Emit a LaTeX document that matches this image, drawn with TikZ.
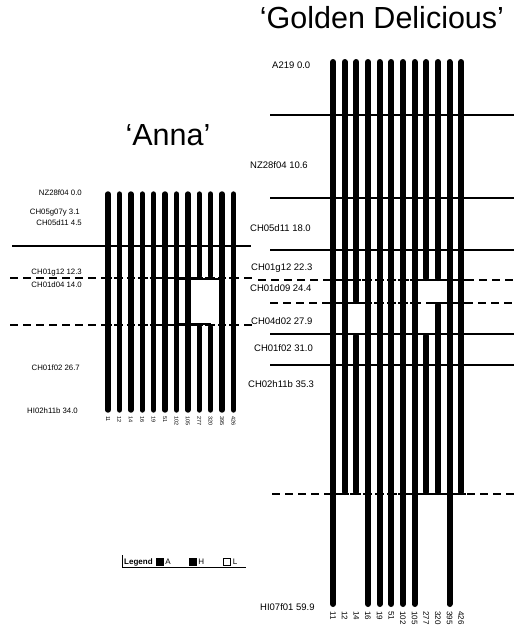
\documentclass[tikz,border=0pt]{standalone}
\usepackage{fontspec}
\setmainfont{Liberation Sans}
\usetikzlibrary{positioning}

\begin{document}
\begin{tikzpicture}[x=1pt,y=-1pt,
  bar/.style={line width=6pt,line cap=round},
  smallbar/.style={line width=5.4pt,line cap=round},
  bartick/.style={line width=2pt},
  mline/.style={line width=1.7pt},
  dline/.style={line width=1.7pt,dash pattern=on 8pt off 5pt},
  ttl/.style={font=\fontsize{30.5}{33}\selectfont,inner sep=0pt},
  gdlab/.style={font=\fontsize{9.5}{10}\selectfont,anchor=west,inner sep=0pt},
  annalab/.style={font=\fontsize{7.8}{8}\selectfont,anchor=east,inner sep=0pt},
  numlab/.style={rotate=-90,anchor=west,inner sep=0pt},
  legtext/.style={font=\fontsize{8}{8}\selectfont,inner sep=0pt},
  legbox/.style={draw,line width=0.8pt,minimum size=7pt,inner sep=0pt}]
  % --- cadre ---
  \fill[white] (0,0) rectangle (514,632);
  \useasboundingbox (0,0) rectangle (514,632);

  % --- titres ---
  \node[ttl] (gdtitle) at (382,18) {`Golden Delicious'};
  \node[ttl] (annatitle) at (168,135) {`Anna'};

  % --- Anna : lignes des marqueurs ---
  \draw[mline] (12,246) -- (251,246);
  \draw[dline] (10,278) -- (256,278);
  \draw[dline] (10,325) -- (256,325);

  % --- Anna : barres (haplotypes) ---
  \foreach \i/\ya/\yb in {0/194/410,1/194/410,2/194/410,3/194/410,4/194/410,
      5/194/410,6/194/410,7/194/410,8/194/276,8/327/410,9/194/276,9/327/410,
      10/194/410,11/194/410}
    \draw[smallbar] ({108+11.4*\i},\ya) -- ({108+11.4*\i},\yb);
  \foreach \i in {0,...,11} {
    \draw[bartick] ({104+11.4*\i},278) -- ({112+11.4*\i},278);
    \draw[bartick] ({104+11.4*\i},325) -- ({112+11.4*\i},325);
  }
  \draw[line width=2.4pt] (176.4,279) -- (222,279);   % bord haut du trou
  \draw[line width=2.4pt] (176.4,324) -- (210.6,324); % bord bas du trou

  % --- Anna : marqueurs ---
  \node[annalab] (a1) at (82,193) {NZ28f04 0.0};
  \node[annalab] (a2) at (80,213) {CH05g07y 3.1};
  \node[annalab] (a3) at (82,223) {CH05d11 4.5};
  \node[annalab] (a4) at (82,273) {CH01g12 12.3};
  \node[annalab] (a5) at (82,285) {CH01d04 14.0};
  \node[annalab] (a6) at (80,368) {CH01f02 26.7};
  \node[annalab] (a7) at (78,411) {HI02h11b 34.0};

  % --- Anna : numéros des plants ---
  \foreach \i/\n in {0/11,1/12,2/14,3/16,4/19,5/51,6/102,7/105,8/277,9/320,10/395,11/426}
    \node[numlab,font=\fontsize{5.5}{5.5}\selectfont] (an\i) at ({108+11.4*\i},416) {\n};

  % --- Golden Delicious : lignes des marqueurs ---
  \foreach \y in {115,198,250,334,365} \draw[mline] (270,\y) -- (514,\y);
  \draw[dline] (258,280) -- (514,280);
  \draw[dline] (270,303) -- (514,303);
  \draw[dline] (272,494) -- (514,494);

  % --- Golden Delicious : barres ---
  \foreach \i/\ya/\yb in {0/62/604,1/62/492,2/62/301,2/336/492,3/62/604,4/62/604,
      5/62/604,6/62/604,7/62/604,8/62/278,8/336/492,9/62/278,9/305/492,
      10/62/604,11/62/492}
    \draw[bar] ({333+11.65*\i},\ya) -- ({333+11.65*\i},\yb);
  \foreach \i in {0,...,11} {
    \draw[bartick] ({328.5+11.65*\i},280) -- ({337.5+11.65*\i},280);
    \draw[bartick] ({328.5+11.65*\i},494) -- ({337.5+11.65*\i},494);
  }
  \foreach \i in {0,...,7,9,10,11}
    \draw[bartick] ({328.5+11.65*\i},303) -- ({337.5+11.65*\i},303);
  \foreach \i in {2,8}
    \draw[bartick] ({328.5+11.65*\i},334) -- ({337.5+11.65*\i},334);

  % --- Golden Delicious : marqueurs ---
  \node[gdlab] (g1) at (272,65) {A219 0.0};
  \node[gdlab] (g2) at (250,165) {NZ28f04 10.6};
  \node[gdlab] (g3) at (250,228) {CH05d11 18.0};
  \node[gdlab] (g4) at (251,268) {CH01g12 22.3};
  \node[gdlab] (g5) at (250,288) {CH01d09 24.4};
  \node[gdlab] (g6) at (251,321) {CH04d02 27.9};
  \node[gdlab] (g7) at (254,348) {CH01f02 31.0};
  \node[gdlab] (g8) at (248,384) {CH02h11b 35.3};
  \node[gdlab] (g9) at (260,607) {HI07f01 59.9};

  % --- Golden Delicious : numéros des plants ---
  \foreach \i/\n in {0/11,1/12,2/14,3/16,4/19,5/51,6/102,7/105,8/277,9/320,10/395,11/426}
    \node[numlab,font=\fontsize{8}{8}\selectfont] (gn\i) at ({333+11.65*\i},611) {\n};

  % --- légende ---
  \node[legtext,font=\fontsize{8}{8}\selectfont\bfseries,anchor=west]
        (legend) at (124,562) {Legend};
  \node[legbox,fill=black,right=3pt of legend] (boxa) {};
  \node[legtext,right=1.5pt of boxa] (keya) {A};
  \node[legbox,fill=black,right=18pt of keya] (boxh) {};
  \node[legtext,right=1.5pt of boxh] (keyh) {H};
  \node[legbox,fill=white,right=19pt of keyh] (boxl) {};
  \node[legtext,right=1.5pt of boxl] (keyl) {L};
  \draw[line width=1pt] (122,555) -- (122,567) -- (246,567);
\end{tikzpicture}
\end{document}
